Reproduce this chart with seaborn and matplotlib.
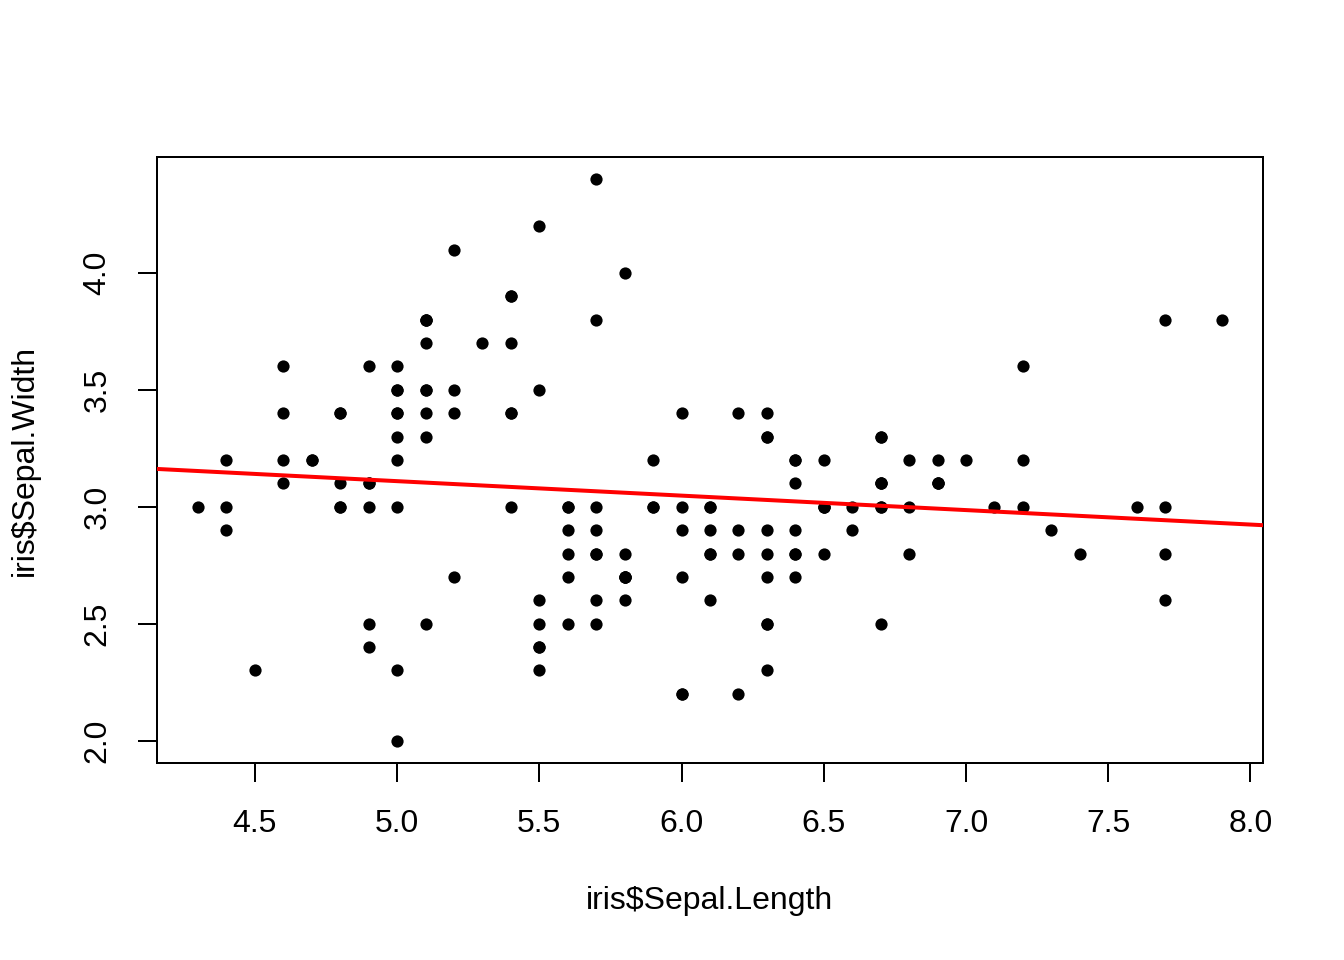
import numpy as np
import pandas as pd
import matplotlib
matplotlib.use("Agg")
import matplotlib.pyplot as plt
import seaborn as sns

sepal_length = [
    5.1, 4.9, 4.7, 4.6, 5.0, 5.4, 4.6, 5.0, 4.4, 4.9, 5.4, 4.8, 4.8, 4.3, 5.8, 5.7, 5.4, 5.1, 5.7, 5.1,
    5.4, 5.1, 4.6, 5.1, 4.8, 5.0, 5.0, 5.2, 5.2, 4.7, 4.8, 5.4, 5.2, 5.5, 4.9, 5.0, 5.5, 4.9, 4.4, 5.1,
    5.0, 4.5, 4.4, 5.0, 5.1, 4.8, 5.1, 4.6, 5.3, 5.0,
    7.0, 6.4, 6.9, 5.5, 6.5, 5.7, 6.3, 4.9, 6.6, 5.2, 5.0, 5.9, 6.0, 6.1, 5.6, 6.7, 5.6, 5.8, 6.2, 5.6,
    5.9, 6.1, 6.3, 6.1, 6.4, 6.6, 6.8, 6.7, 6.0, 5.7, 5.5, 5.5, 5.8, 6.0, 5.4, 6.0, 6.7, 6.3, 5.6, 5.5,
    5.5, 6.1, 5.8, 5.0, 5.6, 5.7, 5.7, 6.2, 5.1, 5.7,
    6.3, 5.8, 7.1, 6.3, 6.5, 7.6, 4.9, 7.3, 6.7, 7.2, 6.5, 6.4, 6.8, 5.7, 5.8, 6.4, 6.5, 7.7, 7.7, 6.0,
    6.9, 5.6, 7.7, 6.3, 6.7, 7.2, 6.2, 6.1, 6.4, 7.2, 7.4, 7.9, 6.4, 6.3, 6.1, 7.7, 6.3, 6.4, 6.0, 6.9,
    6.7, 6.9, 5.8, 6.8, 6.7, 6.7, 6.3, 6.5, 6.2, 5.9,
]
sepal_width = [
    3.5, 3.0, 3.2, 3.1, 3.6, 3.9, 3.4, 3.4, 2.9, 3.1, 3.7, 3.4, 3.0, 3.0, 4.0, 4.4, 3.9, 3.5, 3.8, 3.8,
    3.4, 3.7, 3.6, 3.3, 3.4, 3.0, 3.4, 3.5, 3.4, 3.2, 3.1, 3.4, 4.1, 4.2, 3.1, 3.2, 3.5, 3.6, 3.0, 3.4,
    3.5, 2.3, 3.2, 3.5, 3.8, 3.0, 3.8, 3.2, 3.7, 3.3,
    3.2, 3.2, 3.1, 2.3, 2.8, 2.8, 3.3, 2.4, 2.9, 2.7, 2.0, 3.0, 2.2, 2.9, 2.9, 3.1, 3.0, 2.7, 2.2, 2.5,
    3.2, 2.8, 2.5, 2.8, 2.9, 3.0, 2.8, 3.0, 2.9, 2.6, 2.4, 2.4, 2.7, 2.7, 3.0, 3.4, 3.1, 2.3, 3.0, 2.5,
    2.6, 3.0, 2.6, 2.3, 2.7, 3.0, 2.9, 2.9, 2.5, 2.8,
    3.3, 2.7, 3.0, 2.9, 3.0, 3.0, 2.5, 2.9, 2.5, 3.6, 3.2, 2.7, 3.0, 2.5, 2.8, 3.2, 3.0, 3.8, 2.6, 2.2,
    3.2, 2.8, 2.8, 2.7, 3.3, 3.2, 2.8, 3.0, 2.8, 3.0, 2.8, 3.8, 2.8, 2.8, 2.6, 3.0, 3.4, 3.1, 3.0, 3.1,
    3.1, 3.1, 2.7, 3.2, 3.3, 3.0, 2.5, 3.0, 3.4, 3.0,
]
x_ticks = [4.5, 5.0, 5.5, 6.0, 6.5, 7.0, 7.5, 8.0]
y_ticks = [2.0, 2.5, 3.0, 3.5, 4.0]
x_label = r"iris\$Sepal.Length"
y_label = r"iris\$Sepal.Width"

df = pd.DataFrame({"Sepal.Length": sepal_length, "Sepal.Width": sepal_width})

sns.set_style("ticks", rc={
    "axes.edgecolor": "black", "xtick.color": "black", "ytick.color": "black",
    "text.color": "black", "axes.labelcolor": "black",
})
plt.rcParams["font.family"] = ["Liberation Sans", "DejaVu Sans"]

fig = plt.figure(figsize=(7, 5), dpi=192)
ax = fig.add_axes([157 / 1344, 197 / 960, (1263 - 157) / 1344, (763 - 157) / 960])

# R-style 4% axis extension
xmin, xmax = min(sepal_length), max(sepal_length)
ymin, ymax = min(sepal_width), max(sepal_width)
xr = (xmax - xmin) * 0.04
yr = (ymax - ymin) * 0.04
ax.set_xlim(xmin - xr, xmax + xr)
ax.set_ylim(ymin - yr, ymax + yr)

sns.scatterplot(data=df, x="Sepal.Length", y="Sepal.Width", ax=ax,
                color="black", s=21, linewidth=0, zorder=3)
sns.regplot(data=df, x="Sepal.Length", y="Sepal.Width", ax=ax, scatter=False,
            ci=None, truncate=False, color="red", line_kws={"lw": 1.5, "zorder": 4})
ax.set_xlim(xmin - xr, xmax + xr)
ax.set_ylim(ymin - yr, ymax + yr)

for s in ax.spines.values():
    s.set_visible(True)
    s.set_linewidth(0.75)
    s.set_color("black")

ax.set_xticks(x_ticks)
ax.set_yticks(y_ticks)
ax.set_xticklabels([f"{v:.1f}" for v in x_ticks])
ax.set_yticklabels([f"{v:.1f}" for v in y_ticks])
ax.tick_params(axis="both", length=7.2, width=0.75, labelsize=12)
ax.tick_params(axis="x", pad=10.0)
ax.tick_params(axis="y", pad=9.5)
for lbl in ax.get_yticklabels():
    lbl.set_rotation(90)
    lbl.set_va("center")
    lbl.set_ha("right")

ax.set_xlabel(x_label, fontsize=12, va="center")
ax.set_ylabel(y_label, fontsize=12, va="center", rotation=90)
ax.xaxis.set_label_coords((710 - 157) / 1106, (763 - 901) / 606)
ax.yaxis.set_label_coords((25 - 157) / 1106, 0.5)

fig.savefig("out.png", dpi=192)
